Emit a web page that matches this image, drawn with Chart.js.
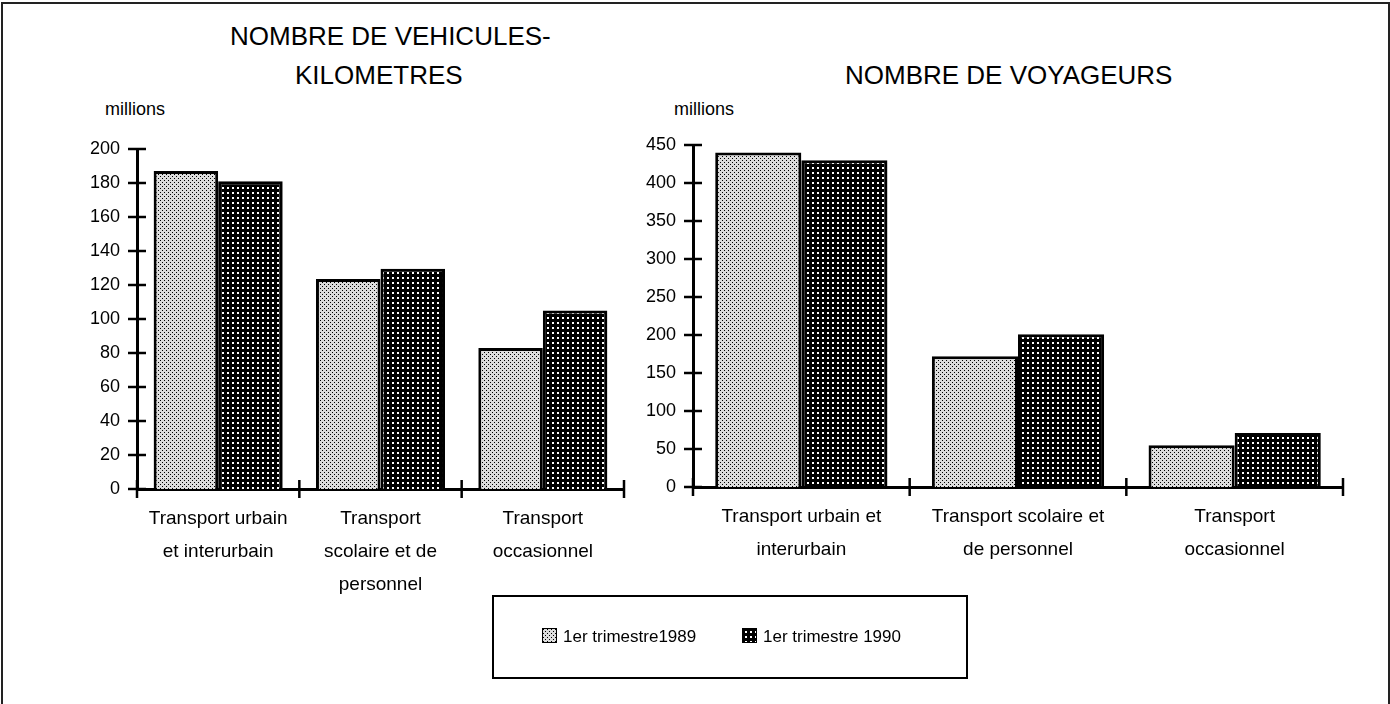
<!DOCTYPE html>
<html>
<head>
<meta charset="utf-8">
<script src="https://cdn.jsdelivr.net/npm/chart.js"></script>
<style>
  body { margin: 0; background: #fff; }
  #page { position: relative; width: 1390px; height: 704px; overflow: hidden; font-family: 'Liberation Sans', Arial, Helvetica, sans-serif; color: #000; }
  #frame { position: absolute; left: 1px; top: 2px; width: 1385px; height: 720px; border: 2px solid #222; }
  .txt { position: absolute; white-space: nowrap; }
  .title { font-size: 26px; line-height: 26px; }
  .unit { font-size: 18px; line-height: 18px; }
  canvas { position: absolute; top: 0; }
  #legend { position: absolute; left: 492px; top: 595px; width: 472px; height: 80px; border: 2px solid #000; }
  .item { position: absolute; top: 31px; font-size: 17px; line-height: 18px; }
  .item canvas { position: relative; display: inline-block; vertical-align: -1px; margin-right: 6px; border: 1.5px solid #000; box-sizing: border-box; }
</style>
</head>
<body>
<div id="page">
  <div id="frame"></div>
  <div class="txt title" style="left:230px; top:23px;">NOMBRE DE VEHICULES-</div>
  <div class="txt title" style="left:295px; top:62px;">KILOMETRES</div>
  <div class="txt title" style="left:845px; top:62px;">NOMBRE DE VOYAGEURS</div>
  <div class="txt unit" style="left:105px; top:100px;">millions</div>
  <div class="txt unit" style="left:674px; top:100px;">millions</div>
  <canvas id="chartKm" width="640" height="704" style="left:0px;"></canvas>
  <canvas id="chartVoy" width="760" height="704" style="left:630px;"></canvas>
  <div id="legend">
    <div class="item" style="left:48px;"><canvas id="sw1" width="13" height="13"></canvas>1er trimestre1989</div>
    <div class="item" style="left:248px;"><canvas id="sw2" width="13" height="13"></canvas>1er trimestre 1990</div>
  </div>
</div>
<script>
// categories
var kmLabels = [["Transport urbain", "et interurbain"], ["Transport", "scolaire et de", "personnel"], ["Transport", "occasionnel"]];
var voyLabels = [["Transport urbain et", "interurbain"], ["Transport scolaire et", "de personnel"], ["Transport", "occasionnel"]];
var seriesNames = ["1er trimestre1989", "1er trimestre 1990"];

// values, millions
var km1989 = [187, 123.5, 83];
var km1990 = [181, 129.5, 105];
var voy1989 = [440, 172, 55];
var voy1990 = [430, 201, 71];

Chart.defaults.font.family = "'Liberation Sans', Arial, Helvetica, sans-serif";
Chart.defaults.color = '#000';

//dotted fills like the printed patterns
function lightPattern(ctx){
    var c = document.createElement('canvas');
    c.width = 4; c.height = 4;
    var p = c.getContext('2d');
    p.fillStyle = '#dcdcdc';
    p.fillRect(0, 0, 4, 4);
    p.fillStyle = '#000';
    p.fillRect(0, 0, 1, 1);
    p.fillRect(2, 2, 1, 1);
    return ctx.createPattern(c, 'repeat');
}
function darkPattern(ctx){
    var c = document.createElement('canvas');
    c.width = 5; c.height = 5;
    var p = c.getContext('2d');
    p.fillStyle = '#000';
    p.fillRect(0, 0, 5, 5);
    p.fillStyle = '#fff';
    p.fillRect(2, 2, 2, 2);
    return ctx.createPattern(c, 'repeat');
}

//ticks that cross the axis lines
var crossTicks = {
    id: 'crossTicks',
    afterDraw: function(chart){
        var ctx = chart.ctx;
        var x = chart.scales.x, y = chart.scales.y;
        ctx.save();
        ctx.strokeStyle = '#000';
        ctx.lineWidth = 2.5;
        for(var i = 0; i < y.ticks.length; i++){
            var py = y.getPixelForTick(i);
            ctx.beginPath();
            ctx.moveTo(y.right - 9, py);
            ctx.lineTo(y.right + 9, py);
            ctx.stroke();
        }
        for(var j = 0; j <= x.ticks.length; j++){
            var px = x.getPixelForValue(j - 0.5);
            ctx.beginPath();
            ctx.moveTo(px, x.top - 9);
            ctx.lineTo(px, x.top + 9);
            ctx.stroke();
        }
        ctx.restore();
    }
};

function createChart(id, labels, d1, d2, max, step, area){
    var canvas = document.getElementById(id);
    var ctx = canvas.getContext('2d');
    return new Chart(ctx, {
        type: 'bar',
        data: {
            labels: labels,
            datasets: [
                {
                    label: seriesNames[0],
                    data: d1,
                    backgroundColor: lightPattern(ctx),
                    borderColor: '#000',
                    borderWidth: 3
                },
                {
                    label: seriesNames[1],
                    data: d2,
                    backgroundColor: darkPattern(ctx),
                    borderColor: '#000',
                    borderWidth: 3
                }
            ]
        },
        options: {
            responsive: false,
            animation: false,
            categoryPercentage: 0.795,
            barPercentage: 1.0,
            layout: {
                padding: { left: 0, top: area.top, right: canvas.width - area.right, bottom: 704 - area.bottom - 150 }
            },
            plugins: {
                legend: { display: false },
                title: { display: false },
                tooltip: { enabled: false }
            },
            scales: {
                x: {
                    grid: { display: false, drawTicks: false },
                    border: { display: true, color: '#000', width: 3 },
                    ticks: { padding: 13, maxRotation: 0, autoSkip: false, font: { size: 19, lineHeight: 1.75 } },
                    afterFit: function(s){ s.height = 150; }
                },
                y: {
                    min: 0,
                    max: max,
                    grid: { display: false, drawTicks: false },
                    border: { display: true, color: '#000', width: 3 },
                    ticks: { stepSize: step, padding: 17, font: { size: 18 } },
                    afterFit: function(s){ s.width = area.left; }
                }
            }
        },
        plugins: [crossTicks]
    });
}

createChart('chartKm', kmLabels, km1989, km1990, 200, 20, { left: 137, right: 624, top: 149, bottom: 489 });
createChart('chartVoy', voyLabels, voy1989, voy1990, 450, 50, { left: 63, right: 713, top: 145, bottom: 487 });

//legend swatches
var s1 = document.getElementById('sw1').getContext('2d');
s1.fillStyle = lightPattern(s1);
s1.fillRect(0, 0, 13, 13);
var s2 = document.getElementById('sw2').getContext('2d');
s2.fillStyle = darkPattern(s2);
s2.fillRect(0, 0, 13, 13);
</script>
</body>
</html>
